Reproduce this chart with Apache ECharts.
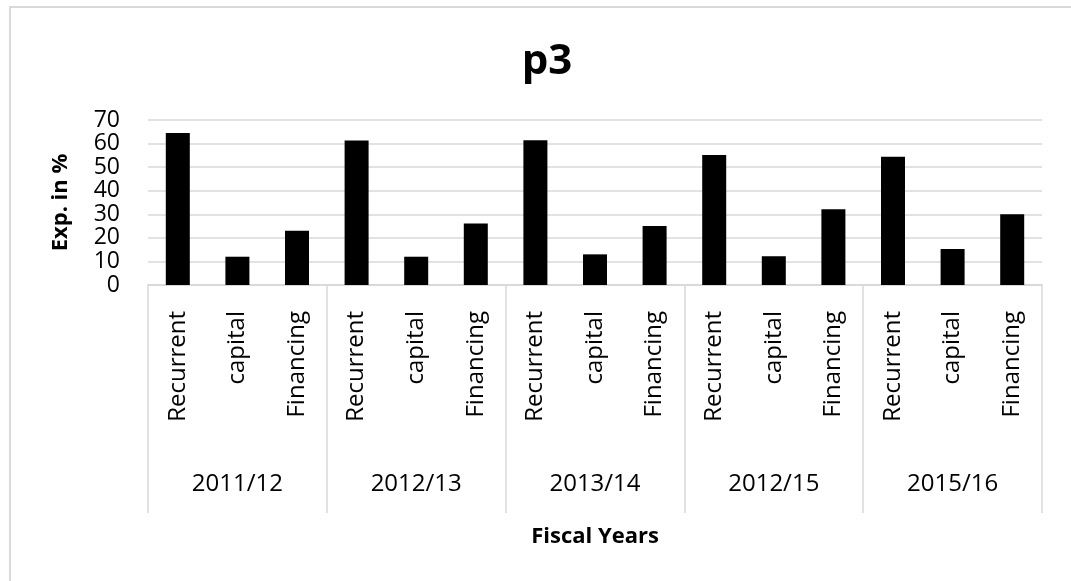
<!DOCTYPE html>
<html>
<head>
<meta charset="utf-8">
<script src="https://cdn.jsdelivr.net/npm/echarts@6/dist/echarts.min.js"></script>
<style>html,body{margin:0;padding:0;background:#fff;}#c{width:1071px;height:581px;}</style>
</head>
<body>
<div id="c"></div>
<script>
const titleText = 'p3';
const yAxisName = 'Exp. in %';
const xAxisName = 'Fiscal Years';
const fiscalYears = ['2011/12', '2012/13', '2013/14', '2012/15', '2015/16'];
const expenseTypes = ['Recurrent', 'capital', 'Financing'];
const expValues = [64.5, 12, 23, 61.3, 12, 26.1, 61.4, 13, 25, 55.2, 12.2, 32.1, 54.4, 15.3, 30];
const yTicks = [0, 10, 20, 30, 40, 50, 60, 70];

const categories = [];
fiscalYears.forEach(() => expenseTypes.forEach(t => categories.push(t)));

const FONT = 'Open Sans';
const grey = '#d9d9d9';
const chart = echarts.init(document.getElementById('c'));
chart.setOption({
  animation: false,
  backgroundColor: '#fff',
  title: {
    text: titleText, left: 542, top: 36, textAlign: 'center',
    textStyle: { fontFamily: FONT, fontSize: 42, fontWeight: 'bold', color: '#000' }
  },
  graphic: [{
    type: 'rect', shape: { x: 10, y: 7, width: 1075, height: 590 },
    style: { fill: 'none', stroke: grey, lineWidth: 2 }, silent: true
  }],
  grid: { left: 148, right: 29, top: 120, bottom: 296 },
  xAxis: [{
    type: 'category', data: categories, position: 'bottom',
    axisLine: { show: true, lineStyle: { color: grey, width: 1.5 } },
    axisTick: { show: false },
    axisLabel: { interval: 0, rotate: 90, margin: 26, fontFamily: FONT, fontSize: 24, color: '#000' }
  }, {
    type: 'category', data: fiscalYears, position: 'bottom',
    name: xAxisName, nameLocation: 'middle', nameGap: 241,
    nameTextStyle: { fontFamily: FONT, fontSize: 22, fontWeight: 'bold', color: '#000' },
    axisLine: { show: true, lineStyle: { color: grey, width: 1.5 } },
    axisTick: { show: true, interval: 0, length: 228, lineStyle: { color: grey, width: 1.5 } },
    axisLabel: { interval: 0, margin: 187, fontFamily: FONT, fontSize: 24, color: '#000' }
  }],
  yAxis: {
    type: 'value', min: yTicks[0], max: yTicks[yTicks.length - 1], interval: 10,
    name: yAxisName, nameLocation: 'middle', nameGap: 76, nameRotate: 90,
    nameTextStyle: { fontFamily: FONT, fontSize: 22, fontWeight: 'bold', color: '#000' },
    axisLine: { show: false }, axisTick: { show: false },
    axisLabel: { margin: 28, fontFamily: FONT, fontSize: 23, color: '#000' },
    splitLine: { lineStyle: { color: grey, width: 1.5 } }
  },
  series: [{
    type: 'bar', xAxisIndex: 0, data: expValues, barWidth: 24,
    itemStyle: { color: '#000' }
  }]
});
</script>
</body>
</html>
